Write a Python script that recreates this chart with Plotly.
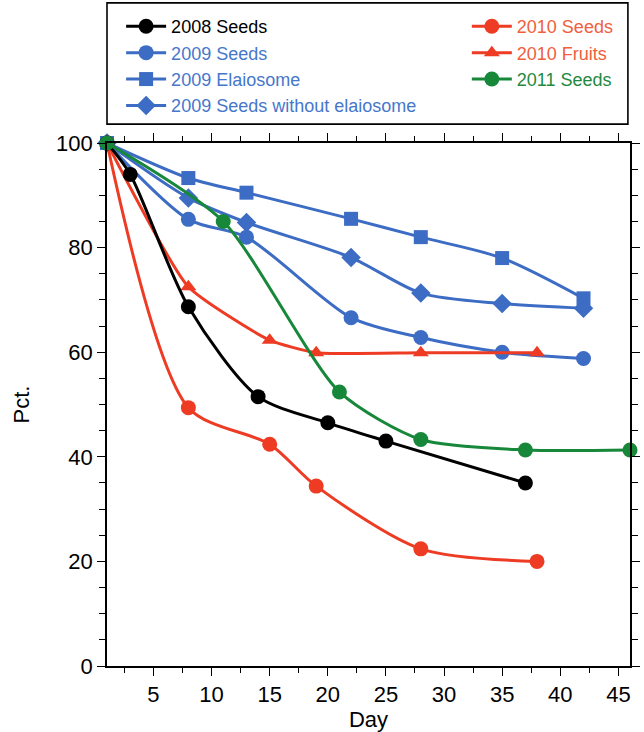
import plotly.graph_objects as go

# ---- data ----
days_2008_seeds = [1, 3, 8, 14, 20, 25, 37]
vals_2008_seeds = [100, 94, 68.7, 51.5, 46.5, 43, 35]

days_2009 = [1, 8, 13, 22, 28, 35, 42]
vals_2009_seeds = [100, 85.4, 82, 66.6, 62.8, 60, 58.8]
vals_2009_elaiosome = [100, 93.3, 90.5, 85.5, 82, 78, 70.3]
vals_2009_seeds_wo = [100, 89.5, 84.8, 78.1, 71.3, 69.3, 68.4]

days_2010_seeds = [1, 8, 15, 19, 28, 38]
vals_2010_seeds = [100, 49.4, 42.4, 34.4, 22.4, 20]

days_2010_fruits = [1, 8, 15, 19, 28, 38]
vals_2010_fruits = [100, 72.5, 62.3, 59.9, 59.9, 59.9]

days_2011_seeds = [1, 11, 21, 28, 37, 46]
vals_2011_seeds = [100, 85, 52.4, 43.3, 41.3, 41.3]

series_names = ["2008 Seeds", "2009 Seeds", "2009 Elaiosome",
                "2009 Seeds without elaiosome", "2010 Seeds", "2010 Fruits", "2011 Seeds"]

x_ticks = [5, 10, 15, 20, 25, 30, 35, 40, 45]
y_ticks = [0, 20, 40, 60, 80, 100]

# ---- styling ----
BLACK = "#000000"
BLUE = "#3C6CC4"
BLUE_TXT = "#4677CB"
RED = "#EE3B24"
RED_TXT = "#F0603C"
GREEN = "#17883A"
GREEN_TXT = "#1F8A40"
FONT = "Liberation Sans, Arial, sans-serif"

fig = go.Figure()

def add(x, y, name, color, txtcolor, symbol, size, legend, smoothing=0.8):
    fig.add_trace(go.Scatter(
        x=x, y=y, mode="lines+markers",
        name=f'<span style="color:{txtcolor}">{name}</span>',
        line=dict(color=color, width=3, shape="spline", smoothing=smoothing),
        marker=dict(color=color, symbol=symbol, size=size, line=dict(width=0)),
        legend=legend, cliponaxis=False,
    ))

add(days_2009, vals_2009_elaiosome, series_names[2], BLUE, BLUE_TXT, "square", 14, "legend")
add(days_2009, vals_2009_seeds_wo, series_names[3], BLUE, BLUE_TXT, "diamond", 15, "legend")
add(days_2009, vals_2009_seeds, series_names[1], BLUE, BLUE_TXT, "circle", 15, "legend")
add(days_2010_fruits, vals_2010_fruits, series_names[5], RED, RED_TXT, "triangle-up", 14, "legend2", 0.5)
add(days_2010_seeds, vals_2010_seeds, series_names[4], RED, RED_TXT, "circle", 15, "legend2")
add(days_2008_seeds, vals_2008_seeds, series_names[0], BLACK, BLACK, "circle", 15, "legend")
add(days_2011_seeds, vals_2011_seeds, series_names[6], GREEN, GREEN_TXT, "circle", 15, "legend2", 0.7)

axis_common = dict(
    showline=True, linecolor="black", linewidth=1.6, mirror="ticks",
    ticks="outside", ticklen=8, tickwidth=1.4, tickcolor="black",
    showgrid=False, zeroline=False, automargin=False,
    tickfont=dict(family=FONT, size=22, color="black"),
    title_font=dict(family=FONT, size=22, color="black"),
)

legend_common = dict(xanchor="left", yanchor="top",
                     bgcolor="rgba(0,0,0,0)", borderwidth=0, itemwidth=40,
                     traceorder="normal", font=dict(family=FONT, size=18))

fig.update_layout(
    width=644, height=732,
    margin=dict(l=107, r=14, t=143, b=66, autoexpand=False),
    paper_bgcolor="white", plot_bgcolor="white",
    font=dict(family=FONT, size=18, color="black"),
    xaxis=dict(range=[1, 46], tickvals=x_ticks, title=dict(text="Day", standoff=0),
               minor=dict(dtick=2.5, tick0=0, ticks="outside", ticklen=5,
                          tickwidth=1.2, tickcolor="black"),
               **axis_common),
    yaxis=dict(range=[0, 100], tickvals=y_ticks, title=dict(text="Pct.", standoff=20),
               minor=dict(dtick=5, tick0=0, ticks="outside", ticklen=6,
                          tickwidth=1.2, tickcolor="black"),
               **axis_common),
    legend=dict(x=0.027, y=1.258, **legend_common),
    legend2=dict(x=0.688, y=1.258, **legend_common),
    showlegend=True,
    shapes=[dict(type="rect", xref="paper", yref="paper",
                 x0=0.0, x1=0.996, y0=1.036, y1=1.268,
                 line=dict(color="black", width=1.6), fillcolor="rgba(0,0,0,0)")],
)

# legend order: put items in the reference order
order = {"2008 Seeds": 1, "2009 Seeds": 2, "2009 Elaiosome": 3,
         "2009 Seeds without elaiosome": 4, "2010 Seeds": 1, "2010 Fruits": 2, "2011 Seeds": 3}
for tr in fig.data:
    plain = tr.name.split(">")[1].split("<")[0]
    tr.legendrank = order[plain]

fig.write_html("out.html", config={"displayModeBar": False},
               post_script="document.body.style.margin='0px';document.body.style.padding='0px';")
